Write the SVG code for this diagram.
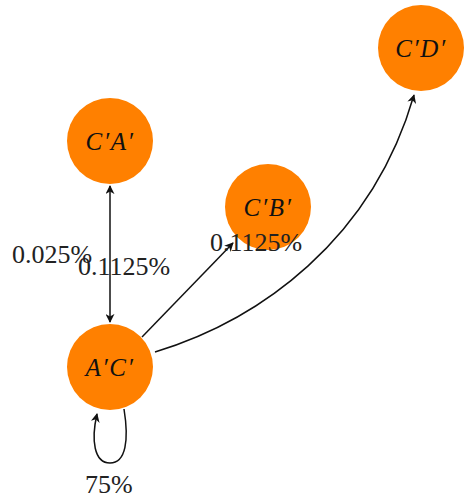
<svg xmlns="http://www.w3.org/2000/svg" width="466" height="499" viewBox="0 0 466 499">
  <style>
    .node circle { fill: #ff8000; }
    .node text { font-family: "Liberation Serif", "DejaVu Serif", serif; font-style: italic; font-size: 25px; letter-spacing: 1.5px; fill: #111; text-anchor: middle; }
    .edge { fill: none; stroke: #111; stroke-width: 1.5; }
    .lbl { font-family: "Liberation Serif", "DejaVu Serif", serif; font-size: 26px; fill: #222; }
  </style>
  <defs>
    <marker id="arr" viewBox="0 0 10 10" refX="9" refY="5" markerWidth="9" markerHeight="9" markerUnits="userSpaceOnUse" orient="auto-start-reverse">
      <path d="M0,0 L10,5 L0,10 L3,5 Z" fill="#111"/>
    </marker>
  </defs>

  <g id="connectors">
    <path class="edge" d="M110,186 L110,322" marker-start="url(#arr)" marker-end="url(#arr)"/>
    <path class="edge" d="M142,337 L233,243" marker-end="url(#arr)"/>
    <path class="edge" d="M155,352 C260,320 372,240 414,95" marker-end="url(#arr)"/>
    <path class="edge" d="M124,409 C129,440 126,463 110,463 C94,463 91,440 97,414" marker-end="url(#arr)"/>
  </g>

  <g id="node-CA" class="node">
    <circle cx="110" cy="141" r="43"/>
    <text x="110" y="150">C′A′</text>
  </g>
  <g id="node-CB" class="node">
    <circle cx="268" cy="207" r="43"/>
    <text x="268" y="216">C′B′</text>
  </g>
  <g id="node-CD" class="node">
    <circle cx="421" cy="48" r="43"/>
    <text x="421" y="57">C′D′</text>
  </g>
  <g id="node-AC" class="node">
    <circle cx="110" cy="367" r="43"/>
    <text x="110" y="376">A′C′</text>
  </g>

  <g id="labels">
    <text class="lbl" x="12" y="263">0.025%</text>
    <text class="lbl" x="78" y="275">0.1125%</text>
    <text class="lbl" x="210" y="251">0.1125%</text>
    <text class="lbl" x="85" y="493">75%</text>
  </g>
</svg>
